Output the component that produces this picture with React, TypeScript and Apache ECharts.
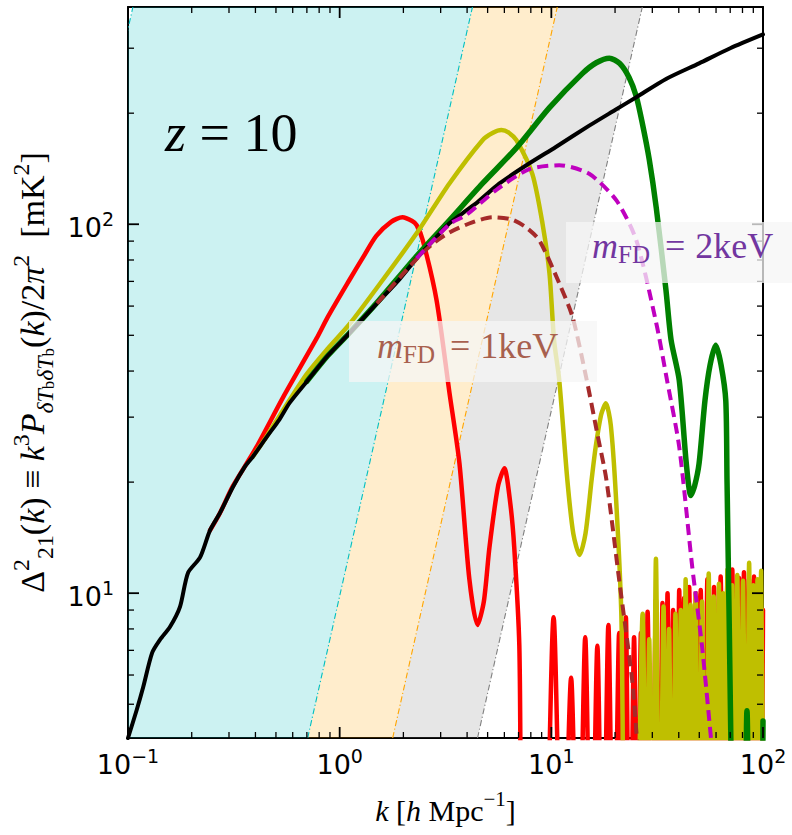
import { useEffect, useRef } from "react";
import * as echarts from "echarts";

const X_MIN = 0.1;
const X_MAX = 100;
const Y_MIN = 4.05;
const Y_MAX = 388;

// LCDM (black)
const lcdm: number[][] = [
  [0.1, 4.05], [0.11, 4.83], [0.118, 5.57], [0.13, 6.89], [0.1415, 7.47], [0.158, 8.11],
  [0.176, 9.18], [0.192, 11.35], [0.219, 12.5], [0.244, 14.8], [0.272, 16.5], [0.313, 19.4],
  [0.356, 22.0], [0.388, 23.4], [0.45, 26.4], [0.52, 29.6], [0.58, 32.8], [0.7, 37.5],
  [0.878, 44], [1.11, 50.6], [1.5, 61], [1.92, 71], [2.31, 80.8], [2.75, 90], [3.3, 100.6],
  [3.97, 109], [4.5, 115], [5.69, 129], [7.62, 144.5], [10.5, 162], [15.1, 185], [20, 204],
  [25.2, 221], [35, 248], [49.9, 273], [70, 300], [100, 327],
];

// red solid curve
const redMain: number[][] = [
  [0.244, 14.8], [0.272, 16.5], [0.313, 19.5], [0.4, 24.6], [0.541, 34], [0.779, 49.1],
  [0.878, 56], [1.11, 70.5], [1.3, 82], [1.49, 93], [1.75, 101.5], [1.98, 104.5], [2.2, 102],
  [2.31, 99.4], [2.47, 90.5], [2.87, 62.2], [3.3, 35], [3.68, 22.5], [4.1, 10.9], [4.48, 8.2],
  [4.8, 9.5], [5.1, 13.3], [5.6, 19.5], [6.0, 21.8], [6.4, 17.5], [6.68, 13.3],
];
const redTail: number[][] = [
  [7.06, 7.2], [7.4, 1.2], [8.6, 1.0], [9.3, 1.2], [10.25, 8.6], [11.3, 1.2], [12.4, 5.9],
  [13.4, 1.2], [14.46, 7.6], [15.45, 1.2], [16.5, 7.2], [17.5, 1.2], [18.6, 8.2], [19.7, 1.2],
  [20.9, 7.8], [21.7, 1.2], [22.5, 8.6], [23.5, 1.2], [24.6, 7.6], [25.5, 1.2], [26.5, 7.8],
  [27.5, 1.2], [28.5, 8.9], [29.8, 1.2], [31.2, 9.6], [32.3, 1.2], [33.5, 9.4], [34.4, 1.2],
  [35.4, 10.0], [36.5, 1.2], [37.6, 9.0], [38.9, 1.2], [40.2, 10.2], [41.3, 1.2], [42.4, 9.7],
  [43.6, 1.2], [44.8, 10.4], [46.5, 1.2], [48.2, 10.0], [49.5, 1.2], [50.8, 10.2], [52.7, 1.2],
  [54.6, 10.9], [56.6, 1.2], [58.7, 10.4], [60.9, 1.2], [63.1, 11.1], [65.5, 1.2], [67.9, 10.9],
  [69.7, 1.2], [71.6, 11.6], [74.3, 1.2], [77.1, 11.0], [79.2, 1.2], [81.3, 11.4], [83.6, 1.2],
  [85.9, 10.9], [88.3, 1.2], [90.7, 11.1], [93.2, 1.2], [95.7, 10.4], [97.8, 1.2], [100, 9.0],
];

// olive (yellow) solid curve
const yellowMain: number[][] = [
  [0.388, 23.4], [0.45, 26.5], [0.538, 31.2], [0.7, 39.3], [0.878, 46], [1.11, 53.5],
  [1.594, 70.5], [2.31, 94.5], [3.3, 129], [4.73, 169], [5.3, 177], [5.81, 180], [6.3, 177],
  [6.84, 169], [8.13, 137], [9.08, 100.6], [9.8, 73.6], [10.3, 48.5], [10.9, 37.8], [11.9, 20.3],
  [12.7, 14.5], [13.6, 12.7], [14.5, 14.5], [15.5, 20.3], [16.2, 24.9], [17.2, 30.5], [18.1, 32.7],
  [19.1, 28.5], [20.2, 18.2],
];
const yellowTail: number[][] = [
  [21.4, 8.9], [21.7, 4.7], [22.3, 1.2], [24.5, 1.2], [27.0, 8.8], [28.0, 1.2], [29.0, 7.5],
  [30.1, 1.2], [31.2, 12.4], [32.5, 1.2], [33.9, 9.2], [34.9, 1.2], [36.0, 8.0], [37.3, 1.2],
  [38.6, 8.8], [39.7, 1.2], [40.9, 9.0], [42.0, 1.2], [43.1, 10.9], [44.3, 1.2], [45.5, 9.3],
  [46.8, 1.2], [48.1, 10.0], [49.8, 1.2], [51.5, 9.5], [53.4, 1.2], [55.4, 11.3], [56.9, 1.2],
  [58.5, 9.8], [60.2, 1.2], [61.9, 10.6], [63.3, 1.2], [64.8, 10.0], [66.3, 1.2], [67.9, 11.6],
  [69.7, 1.2], [71.5, 10.5], [73.5, 1.2], [75.6, 11.2], [78.0, 1.2], [80.5, 10.8], [83.2, 1.2],
  [86.0, 12.1], [88.0, 1.2], [90.0, 10.5], [92.1, 1.2], [94.2, 10.9], [96.1, 1.2], [98.0, 11.5],
  [100, 3],
];

// green solid curve
const green: number[][] = [
  [0.7, 37.5], [0.878, 44], [1.11, 50.7], [1.5, 61.3], [2.31, 82], [3.3, 102.5], [4.73, 129],
  [6.84, 161], [9.8, 207], [14.0, 256], [16.3, 274], [18.8, 282], [21, 273], [23.3, 250],
  [25.2, 222], [26.9, 188], [29, 150], [31.3, 111], [34.8, 66.3], [36.8, 48.5], [40.2, 37.8],
  [43.4, 22.5], [45.6, 18.4], [47.5, 19.5], [49.9, 22.5], [53.2, 33.3], [56.2, 41.5], [59.8, 47],
  [63.4, 41.5], [66.7, 33.3], [67.6, 20.3], [70.5, 4], [71.5, 1.2], [80, 1.2], [84, 4.8],
  [88, 1.2], [96, 1.2], [100, 4.5],
];

// brown dashed (m_FD = 1 keV)
const fd1keV: number[][] = [
  [1.5, 61], [2.31, 80.6], [2.75, 88.5], [3.3, 95], [4.2, 101], [5.27, 104.5], [6.5, 103],
  [7.6, 98], [8.77, 90.5], [10.9, 69.2], [12.6, 56], [14.6, 38.5], [16.5, 27], [18.2, 20.3],
  [20.9, 10.9], [24.1, 5.8], [25.4, 4], [26, 3.5],
];

// magenta dashed (m_FD = 2 keV)
const fd2keV: number[][] = [
  [2.31, 80.8], [3.3, 100], [3.97, 106], [5.5, 124], [7.87, 141], [10.9, 144.5], [15.1, 137],
  [20.3, 116], [25.2, 90.5], [31.3, 54], [35.2, 37.8], [40.2, 24.9], [46.3, 11.8], [51.5, 7.2],
  [56.9, 4], [58, 3.6],
];

// shaded bands: boundary lines (k at bottom and top of the frame)
const bandBottomK = [0.0176, 0.706, 1.78, 4.48];
const bandTopK = [0.1055, 4.24, 10.67, 26.9];
const bandFills = ["rgba(0,191,191,0.2)", "rgba(255,165,0,0.2)", "rgba(128,128,128,0.2)"];
const bandEdgeColors = ["#00bfbf", "#00bfbf", "#ffa500", "#808080"];

const xMajorTicks = [0.1, 1, 10, 100];
const xMinorTicks = [0.2, 0.3, 0.4, 0.5, 0.6, 0.7, 0.8, 0.9, 2, 3, 4, 5, 6, 7, 8, 9, 20, 30, 40, 50, 60, 70, 80, 90];
const yMajorTicks = [10, 100];
const yMinorTicks = [5, 6, 7, 8, 9, 20, 30, 40, 50, 60, 70, 80, 90, 200, 300];

const SERIF = "Liberation Serif";
const SANS = "DejaVu Sans";

function powLabel(v: number): string {
  const l = Math.log10(v);
  const e = Math.round(l);
  if (Math.abs(l - e) > 1e-6) return "";
  const es = e < 0 ? "\u2212" + -e : String(e);
  return "{b|10}{s|" + es + "}";
}

const tickRich = {
  b: { fontFamily: SANS, fontSize: 27, color: "#000", lineHeight: 30, padding: [6, 0, 0, 0] },
  s: { fontFamily: SANS, fontSize: 19, color: "#000", lineHeight: 20, verticalAlign: "top" },
};

const mathRich = (size: number) => ({
  r: { fontFamily: SERIF, fontSize: size, color: "#000", lineHeight: size + 14 },
  i: { fontFamily: SERIF, fontStyle: "italic", fontSize: size, color: "#000", lineHeight: size + 14 },
  sup: { fontFamily: SERIF, fontSize: size * 0.7, color: "#000", verticalAlign: "top", lineHeight: size * 0.8 },
  sub: { fontFamily: SERIF, fontSize: size * 0.7, color: "#000", verticalAlign: "bottom", lineHeight: size * 0.8 },
  subi: { fontFamily: SERIF, fontStyle: "italic", fontSize: size * 0.7, color: "#000", verticalAlign: "bottom", lineHeight: size * 0.8 },
  subsub: { fontFamily: SERIF, fontSize: size * 0.5, color: "#000", verticalAlign: "bottom", lineHeight: size * 0.45 },
});

const labelRich = (color: string) => ({
  m: { fontFamily: SERIF, fontStyle: "italic", fontSize: 36, fill: color, lineHeight: 42 },
  s: { fontFamily: SERIF, fontSize: 25, fill: color, verticalAlign: "bottom", lineHeight: 32 },
  e: { fontFamily: SERIF, fontSize: 36, fill: color, lineHeight: 42, padding: [0, 10, 0, 15] },
  t: { fontFamily: SERIF, fontSize: 36, fill: color, lineHeight: 42 },
});

function lineSeries(data: number[][], color: string, width: number, dashed: boolean, z: number) {
  return {
    type: "line",
    data,
    xAxisIndex: 0,
    yAxisIndex: 0,
    showSymbol: false,
    symbol: "none",
    smooth: 0.25,
    clip: true,
    silent: true,
    z,
    lineStyle: { color, width, type: dashed ? [11, 6] : "solid", join: "round", cap: dashed ? "butt" : "round" },
    emphasis: { disabled: true },
  };
}

function buildOption() {
  const tickData: number[][] = [
    ...xMajorTicks.map((v) => [v, Y_MAX, 1, 0]),
    ...xMinorTicks.map((v) => [v, Y_MAX, 0, 0]),
    ...yMajorTicks.map((v) => [X_MIN, v, 1, 1]),
    ...yMinorTicks.map((v) => [X_MIN, v, 0, 1]),
  ];

  const boxStyle = { fill: "rgba(245,245,245,0.75)" };

  return {
    animation: false,
    backgroundColor: "#fff",
    grid: { left: 128, top: 7, right: 29, bottom: 97, containLabel: false },
    xAxis: [
      {
        type: "log",
        logBase: 10,
        min: X_MIN,
        max: X_MAX,
        position: "bottom",
        axisLine: { show: true, onZero: false, lineStyle: { color: "#000", width: 2 } },
        axisTick: { show: false },
        minorTick: { show: false },
        splitLine: { show: false },
        axisLabel: { formatter: powLabel, rich: tickRich, margin: 8, showMinLabel: true, showMaxLabel: true },
        name: "{i|k}{r| [}{i|h}{r| Mpc}{sup|\u22121}{r|]}",
        nameLocation: "middle",
        nameGap: 50,
        nameTextStyle: { rich: mathRich(30) },
      },
      {
        type: "log",
        logBase: 10,
        min: X_MIN,
        max: X_MAX,
        position: "top",
        axisLine: { show: true, onZero: false, lineStyle: { color: "#000", width: 2 } },
        axisTick: { show: false },
        splitLine: { show: false },
        axisLabel: { show: false },
      },
    ],
    yAxis: [
      {
        type: "log",
        logBase: 10,
        min: Y_MIN,
        max: Y_MAX,
        position: "left",
        axisLine: { show: true, onZero: false, lineStyle: { color: "#000", width: 2 } },
        axisTick: { show: false },
        minorTick: { show: false },
        splitLine: { show: false },
        axisLabel: { formatter: powLabel, rich: tickRich, margin: 14, showMinLabel: false, showMaxLabel: false },
        name:
          "{r|\u0394}{sup|2}{sub|21}{r|(}{i|k}{r|) \u2261 }{i|k}{sup|3}{i|P}{subi|\u03b4T}{subsub|b}{subi|\u03b4T}{subsub|b}{r|(}{i|k}{r|)/2}{i|\u03c0}{sup|2}{r|  [mK}{sup|2}{r|]}",
        nameLocation: "middle",
        nameRotate: 90,
        nameGap: 68,
        nameTextStyle: { rich: mathRich(34) },
      },
      {
        type: "log",
        logBase: 10,
        min: Y_MIN,
        max: Y_MAX,
        position: "right",
        axisLine: { show: true, onZero: false, lineStyle: { color: "#000", width: 2 } },
        axisTick: { show: false },
        splitLine: { show: false },
        axisLabel: { show: false },
      },
    ],
    series: [
      {
        type: "custom",
        xAxisIndex: 0,
        yAxisIndex: 0,
        clip: true,
        silent: true,
        z: 1,
        data: bandFills.map((_, i) => [bandTopK[i + 1], Y_MAX]),
        renderItem: (params: any, api: any) => {
          const i = params.dataIndex;
          const pts = [
            api.coord([bandBottomK[i], Y_MIN]),
            api.coord([bandBottomK[i + 1], Y_MIN]),
            api.coord([bandTopK[i + 1], Y_MAX]),
            api.coord([bandTopK[i], Y_MAX]),
          ];
          return { type: "polygon", shape: { points: pts }, style: { fill: bandFills[i] } };
        },
      },
      {
        type: "custom",
        xAxisIndex: 0,
        yAxisIndex: 0,
        clip: true,
        silent: true,
        z: 1,
        data: bandTopK.map((k) => [k, Y_MAX]),
        renderItem: (params: any, api: any) => {
          const i = params.dataIndex;
          const a = api.coord([bandBottomK[i], Y_MIN]);
          const b = api.coord([bandTopK[i], Y_MAX]);
          return {
            type: "line",
            shape: { x1: a[0], y1: a[1], x2: b[0], y2: b[1] },
            style: { stroke: bandEdgeColors[i], lineWidth: 1.1, lineDash: [6, 2.5, 1.2, 2.5], fill: null },
          };
        },
      },
      lineSeries(redMain.concat(redTail), "#ff0000", 4.5, false, 3),
      lineSeries(yellowMain.concat(yellowTail), "#bfbf00", 4.5, false, 3),
      lineSeries(green, "#008000", 5.5, false, 3),
      lineSeries(lcdm, "#000000", 4, false, 4),
      lineSeries(fd1keV, "#a52a2a", 4, true, 5),
      lineSeries(fd2keV, "#bf00bf", 4, true, 5),
      {
        type: "custom",
        xAxisIndex: 0,
        yAxisIndex: 0,
        silent: true,
        z: 6,
        data: tickData,
        renderItem: (params: any, api: any) => {
          const cs = params.coordSys;
          const major = api.value(2) === 1;
          const len = major ? 11 : 6;
          const p = api.coord([api.value(0), api.value(1)]);
          const style = { stroke: "#000", lineWidth: major ? 1.8 : 1.3 };
          if (api.value(3) === 0) {
            const x = p[0];
            const yb = cs.y + cs.height;
            return {
              type: "group",
              children: [
                { type: "line", shape: { x1: x, y1: yb, x2: x, y2: yb - len }, style },
                { type: "line", shape: { x1: x, y1: cs.y, x2: x, y2: cs.y + len }, style },
              ],
            };
          }
          const y = p[1];
          const xr = cs.x + cs.width;
          return {
            type: "group",
            children: [
              { type: "line", shape: { x1: cs.x, y1: y, x2: cs.x + len, y2: y }, style },
              { type: "line", shape: { x1: xr, y1: y, x2: xr - len, y2: y }, style },
            ],
          };
        },
      },
    ],
    graphic: [
      {
        type: "text",
        left: 165,
        top: 106,
        z: 100,
        style: {
          text: "{i|z}{r| = 10}",
          rich: {
            i: { fontFamily: SERIF, fontStyle: "italic", fontSize: 54, fill: "#000" },
            r: { fontFamily: SERIF, fontSize: 54, fill: "#000" },
          },
        },
      },
      { type: "rect", z: 100, shape: { x: 349, y: 321, width: 248, height: 61 }, style: boxStyle },
      {
        type: "text",
        left: 377,
        top: 328,
        z: 101,
        style: { text: "{m|m}{s|FD}{e|=}{t|1keV}", rich: labelRich("#a8604e") },
      },
      { type: "rect", z: 100, shape: { x: 566, y: 222, width: 226, height: 61 }, style: boxStyle },
      {
        type: "text",
        left: 592,
        top: 228,
        z: 101,
        style: { text: "{m|m}{s|FD}{e|=}{t|2keV}", rich: labelRich("#7236a0") },
      },
    ],
  };
}

export default function App() {
  const ref = useRef<HTMLDivElement>(null);
  useEffect(() => {
    const chart = echarts.init(ref.current!, null, { renderer: "svg" });
    chart.setOption(buildOption() as any);
    return () => chart.dispose();
  }, []);
  return (
    <div
      ref={ref}
      style={{ position: "absolute", left: 0, top: 0, width: 792, height: 835, background: "#fff" }}
    />
  );
}
